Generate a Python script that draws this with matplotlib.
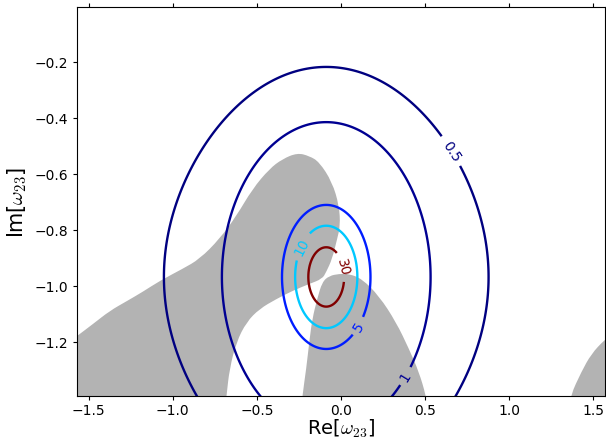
#!/usr/bin/env python3
"""Contour map of the response around the omega_23 pole, with the shaded region"""
import numpy as np
import matplotlib
matplotlib.use('Agg')
import matplotlib.pyplot as plt
from matplotlib.path import Path
from matplotlib.patches import PathPatch

# contour levels and the pole the field is centred on
levels = [0.5, 1, 5, 10, 30]
pole_re = -0.087
pole_im = -0.969
amplitude = 0.338

# where each level gets its label (re, im)
label_spots = [(0.672, -0.512), (0.381, -1.322), (0.103, -1.144),
               (-0.235, -0.858), (0.008, -0.933)]

# shaded region, outline points (re, im)
band_re = [-1.62, -1.569, -1.474, -1.374, -1.272, -1.178, -1.077, -0.941,
           -0.840, -0.721, -0.621, -0.526, -0.425, -0.348, -0.259, -0.188,
           -0.129, -0.052, -0.010, -0.004, -0.022, -0.052, -0.087, -0.111,
           -0.188, -0.289, -0.384, -0.484, -0.561, -0.621, -0.662, -0.680,
           -0.690, -1.62]
band_im = [-1.203, -1.180, -1.137, -1.090, -1.055, -1.022, -0.983, -0.940,
           -0.905, -0.833, -0.751, -0.655, -0.583, -0.548, -0.526, -0.537,
           -0.558, -0.630, -0.715, -0.787, -0.833, -0.905, -0.951, -0.976,
           -0.994, -1.019, -1.048, -1.083, -1.130, -1.201, -1.297, -1.393,
           -1.45, -1.45]

lobe_re = [-0.235, -0.229, -0.206, -0.188, -0.170, -0.141, -0.111, -0.069,
           -0.010, 0.049, 0.126, 0.227, 0.328, 0.405, 0.464, 0.506, 0.52]
lobe_im = [-1.45, -1.393, -1.297, -1.201, -1.119, -1.048, -0.987, -0.965,
           -0.958, -0.958, -0.976, -1.037, -1.130, -1.226, -1.308, -1.393,
           -1.45]

corner_re = [1.355, 1.365, 1.430, 1.489, 1.567, 1.62, 1.62]
corner_im = [-1.45, -1.393, -1.308, -1.244, -1.194, -1.17, -1.45]

x_range = (-np.pi / 2, np.pi / 2)
y_range = (-1.393, -0.005)


def smooth_outline(xs, ys):
    """Closed outline drawn with quadratic curves through the outline points"""
    pts = np.column_stack([xs, ys])
    n = len(pts)
    mids = (pts + np.roll(pts, -1, axis=0)) / 2
    verts = [mids[-1]]
    codes = [Path.MOVETO]
    for i in range(n):
        verts += [pts[i], mids[i]]
        codes += [Path.CURVE3, Path.CURVE3]
    verts.append(mids[-1])
    codes.append(Path.CLOSEPOLY)
    return Path(verts, codes)


def main():
    plt.rcParams['mathtext.fontset'] = 'cm'
    fig = plt.figure(figsize=(6.06, 4.39), dpi=100)
    ax = fig.add_axes([0.1266, 0.0964, 0.8718, 0.8854])

    for xs, ys in [(band_re, band_im), (lobe_re, lobe_im), (corner_re, corner_im)]:
        ax.add_patch(PathPatch(smooth_outline(xs, ys), facecolor='0.7', lw=0, zorder=1))

    re = np.linspace(-1.65, 1.65, 500)
    im = np.linspace(-1.5, 0.05, 400)
    X, Y = np.meshgrid(re, im)
    Z = amplitude / (np.sin(X - pole_re) ** 2 + np.sinh(Y - pole_im) ** 2)

    cs = ax.contour(X, Y, Z, levels=levels, cmap='jet', linewidths=1.7, zorder=2)
    ax.clabel(cs, fmt='%g', fontsize=10, inline=True, manual=label_spots)

    ax.set_xlim(*x_range)
    ax.set_ylim(*y_range)
    ax.set_xticks([-1.5, -1.0, -0.5, 0.0, 0.5, 1.0, 1.5])
    ax.set_yticks([-1.2, -1.0, -0.8, -0.6, -0.4, -0.2])
    ax.tick_params(direction='out', length=3, top=True, right=True, labelsize=10)
    ax.tick_params(axis='x', pad=2)
    ax.set_xlabel(r'Re[$\omega_{23}$]', fontsize=14)
    ax.xaxis.set_label_coords(0.5, -0.055)
    ax.set_ylabel(r'Im[$\omega_{23}$]', fontsize=15)

    fig.savefig('out.png', dpi=100)
    plt.close(fig)


if __name__ == '__main__':
    main()
